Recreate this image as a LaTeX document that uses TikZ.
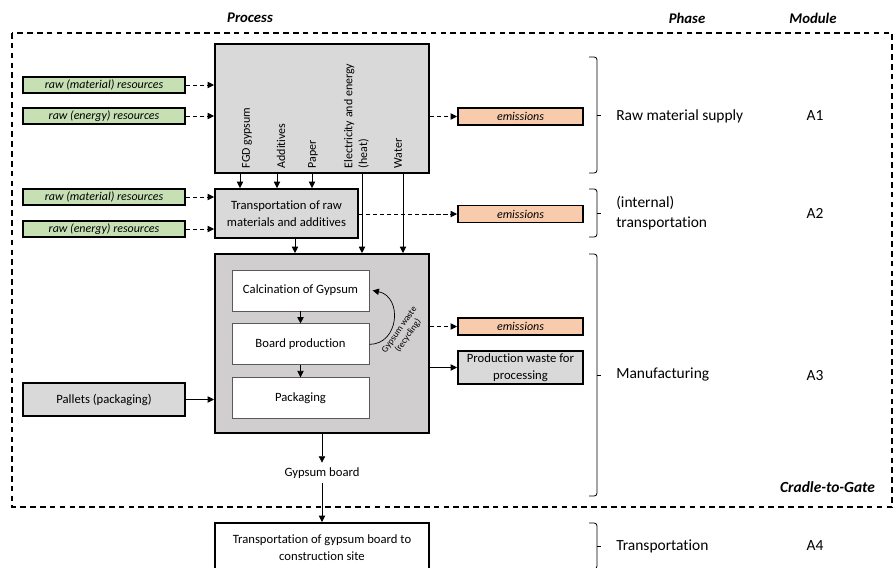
\documentclass[tikz,border=0pt]{standalone}
\usepackage{fontspec}
\setmainfont{Carlito}[Ligatures=NoCommon]
\usepackage{tikz}
\usetikzlibrary{arrows.meta,positioning}

\definecolor{rawgreen}{HTML}{C6E0B4}
\definecolor{emisorange}{HTML}{F8CBAD}
\definecolor{boxgray}{HTML}{D9D9D9}
\definecolor{mangray}{HTML}{D0CECE}

\tikzset{
    thickbox/.style={draw, line width=1.4pt, inner sep=1pt, align=center, font=\fontsize{9}{12}\selectfont},
    resbox/.style={thickbox, fill=rawgreen, minimum width=4.05cm, minimum height=0.4cm, font=\fontsize{8.5}{10}\selectfont\itshape},
    emisbox/.style={thickbox, fill=emisorange, minimum width=3.125cm, minimum height=0.425cm, font=\fontsize{8.5}{10}\selectfont\itshape},
    stepbox/.style={draw=gray!70!black, line width=0.6pt, fill=white, minimum width=3.425cm, minimum height=1.025cm, font=\fontsize{9}{12}\selectfont},
    inlabel/.style={rotate=90, anchor=west, inner sep=1pt, align=left, font=\fontsize{8.5}{10.5}\selectfont},
    arr/.style={-{Triangle[length=4.5pt,width=4.5pt]}, line width=0.5pt},
    dasharr/.style={arr, dash pattern=on 3pt off 2pt},
    head/.style={font=\fontsize{10.5}{12}\selectfont\bfseries\itshape},
    phase/.style={anchor=west, inner sep=0pt, align=left, font=\fontsize{11}{14.5}\selectfont},
    module/.style={font=\fontsize{11}{13}\selectfont},
}

\begin{document}
\begin{tikzpicture}[x=0.025cm, y=-0.025cm]
    \clip (0,0) rectangle (896,567);

    % headings
    \node[head] (hproc) at (250,18) {Process};
    \node[head] (hphase) at (687,18) {Phase};
    \node[head] (hmod) at (813,18) {Module};

    % cradle-to-gate frame
    \draw[line width=0.8pt, dash pattern=on 4pt off 3pt] (12,33) rectangle (892,507);
    \node[anchor=east, font=\fontsize{11}{13}\selectfont\bfseries\itshape] (gate) at (880,487) {Cradle-to-Gate};

    % A1 raw material supply
    \node[thickbox, fill=boxgray, minimum width=5.35cm, minimum height=3.225cm] (supply) at (322,108.5) {};
    \node[inlabel] (fgd) at (247,170) {FGD gypsum};
    \node[inlabel] (addit) at (281,170) {Additives};
    \node[inlabel] (paper) at (313,170) {Paper};
    \node[inlabel] (elec) at (356.5,170) {Electricity and energy\\(heat)};
    \node[inlabel] (water) at (398,170) {Water};

    \node[resbox] (rawmat1) at (104,85) {raw (material) resources};
    \node[resbox] (rawen1) at (104,116) {raw (energy) resources};
    \draw[dasharr] (rawmat1.east) -- (rawmat1.east -| supply.west);
    \draw[dasharr] (rawen1.east) -- (rawen1.east -| supply.west);

    \node[emisbox] (emis1) at (520.5,116.5) {emissions};
    \draw[dasharr] (supply.east |- emis1) -- (emis1.west);

    % A2 internal transportation
    \node[thickbox, fill=boxgray, minimum width=3.575cm, minimum height=1.225cm] (transport) at (286.5,213.5) {Transportation of raw\\materials and additives};
    \node[resbox] (rawmat2) at (104,197) {raw (material) resources};
    \node[resbox] (rawen2) at (104,229) {raw (energy) resources};
    \draw[dasharr] (rawmat2.east) -- (rawmat2.east -| transport.west);
    \draw[dasharr] (rawen2.east) -- (rawen2.east -| transport.west);

    \foreach \x in {240,277,312}
        \draw[arr] (\x,0 |- supply.south) -- (\x,0 |- transport.north);

    \node[emisbox] (emis2) at (520.5,214) {emissions};
    \draw[dasharr] (transport.east |- emis2) -- (emis2.west);

    % A3 manufacturing
    \node[thickbox, fill=mangray, minimum width=5.35cm, minimum height=4.475cm] (manuf) at (322,343.5) {};
    \draw[arr] (295,0 |- transport.south) -- (295,0 |- manuf.north);
    \foreach \x in {362,403}
        \draw[arr] (\x,0 |- supply.south) -- (\x,0 |- manuf.north);

    \node[stepbox] (calc) at (300.5,290.5) {Calcination of Gypsum};
    \node[stepbox, below=0.3cm of calc] (board) {Board production};
    \node[stepbox, below=0.3cm of board] (pack) {Packaging};
    \draw[arr] (calc) -- (board);
    \draw[arr] (board) -- (pack);
    \draw[arr] (board.east) .. controls +(30,0) and +(30,6) .. ([xshift=0.08cm]calc.east);
    \node[rotate=55, align=center, inner sep=0pt, font=\fontsize{6.5}{7.5}\selectfont] (recyc) at (404,333) {Gypsum waste\\(recycling)};

    \node[thickbox, fill=boxgray, minimum width=4.05cm, minimum height=0.825cm] (pallets) at (104,399.5) {Pallets (packaging)};
    \draw[arr] (pallets.east) -- (pallets.east -| manuf.west);

    \node[emisbox] (emis3) at (520.5,326.5) {emissions};
    \node[thickbox, fill=boxgray, minimum width=3.125cm, minimum height=0.825cm] (waste) at (520.5,367.5) {Production waste for\\processing};
    \draw[dasharr] (manuf.east |- emis3) -- (emis3.west);
    \draw[arr] (manuf.east |- waste) -- (waste.west);

    % product and A4
    \node[font=\fontsize{9}{12}\selectfont] (gboard) at (322,473) {Gypsum board};
    \node[thickbox, fill=white, minimum width=5.35cm, minimum height=1.225cm] (site) at (322,547.5) {Transportation of gypsum board to\\construction site};
    \draw[arr] (manuf.south) -- (gboard.north);
    \draw[arr] (gboard.south) -- (site.north);

    % phase braces
    \foreach \t/\b in {57/173,189/237,254/496,523/569}{
        \draw[line width=0.6pt, rounded corners=2pt] (589,\t) -- (597,\t) -- (597,\b) -- (589,\b);
        \draw[line width=0.6pt] (597,{(\t+\b)/2}) -- (601,{(\t+\b)/2});
    }

    \node[phase] (ph1) at (616,116) {Raw material supply};
    \node[phase] (ph2) at (616,213) {(internal)\\transportation};
    \node[phase] (ph3) at (616,375) {Manufacturing};
    \node[phase] (ph4) at (616,546) {Transportation};

    \node[module] (mod1) at (815,116) {A1};
    \node[module] (mod2) at (815,213) {A2};
    \node[module] (mod3) at (815,376) {A3};
    \node[module] (mod4) at (815,546) {A4};
\end{tikzpicture}
\end{document}
